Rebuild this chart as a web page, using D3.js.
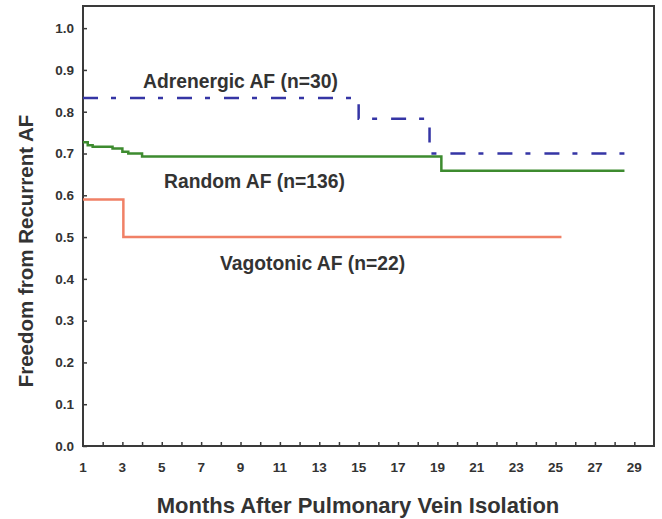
<!DOCTYPE html>
<html>
  <head>
    <script src="https://d3js.org/d3.v7.min.js"></script>
    <title>Freedom from Recurrent AF</title>
    <style>
      body { margin: 0; background: #fff; }
      text { font-family: "Liberation Sans", Arial, sans-serif; font-weight: bold; fill: #333; }
    </style>
  </head>
  <body>
  <svg width="662" height="519"></svg>
  <script>
      // step points: [month, freedom]
      var adrenergic = [[1, 0.833], [15, 0.833], [15, 0.783], [18.6, 0.783], [18.6, 0.70], [28.7, 0.70]];
      var random = [[1, 0.727], [1.24, 0.727], [1.24, 0.720], [1.49, 0.720], [1.49, 0.716], [2.5, 0.716],
        [2.5, 0.712], [3.0, 0.712], [3.0, 0.704], [3.3, 0.704], [3.3, 0.700], [4.0, 0.700], [4.0, 0.693],
        [19.2, 0.693], [19.2, 0.659], [28.5, 0.659]];
      var vagotonic = [[1, 0.59], [3.05, 0.59], [3.05, 0.50], [25.3, 0.50]];

      var xTicks = d3.range(2, 30);
      var xLabels = d3.range(1, 30, 2);
      var yTicks = d3.range(0, 11).map(d => d / 10);

      var svg = d3.select('svg');
      var margin = {left: 83, right: 8, top: 6, bottom: 73};
      var w = 662, h = 519;

      var xScale = d3.scaleLinear().domain([1, 30]).range([margin.left, w - margin.right]);
      var yScale = d3.scaleLinear().domain([0, 1.053]).range([h - margin.bottom, margin.top]);

      // frame
      svg.append('rect')
        .attr('x', margin.left)
        .attr('y', margin.top)
        .attr('width', w - margin.left - margin.right)
        .attr('height', h - margin.top - margin.bottom)
        .attr('fill', 'none')
        .attr('stroke', '#3a3a3a')
        .attr('stroke-width', 2);

      // x axis ticks (inward)
      var xAxis = d3.axisTop(xScale).tickValues(xTicks).tickSize(4).tickFormat('');
      svg.append('g')
        .attr('class', 'xAxis')
        .attr('transform', `translate(0, ${h - margin.bottom})`)
        .call(xAxis)
        .call(g => g.select('.domain').remove())
        .selectAll('line').attr('stroke', '#3a3a3a').attr('stroke-width', 1.5);

      svg.append('g')
        .selectAll('text')
        .data(xLabels)
        .enter().append('text')
        .attr('x', d => xScale(d))
        .attr('y', 472)
        .style('text-anchor', 'middle')
        .style('font-size', '13.5px')
        .text(d => d);

      // y axis ticks (inward)
      var yAxis = d3.axisRight(yScale).tickValues(yTicks).tickSize(4).tickFormat(d3.format('.1f'));
      svg.append('g')
        .attr('class', 'yAxis')
        .attr('transform', `translate(${margin.left}, 0)`)
        .call(yAxis)
        .call(g => g.select('.domain').remove())
        .call(g => g.selectAll('line').attr('stroke', '#3a3a3a').attr('stroke-width', 1.5))
        .selectAll('text')
        .attr('x', -9)
        .style('text-anchor', 'end')
        .style('font-size', '13.5px')
        .style('font-family', '"Liberation Sans", Arial, sans-serif')
        .style('font-weight', 'bold')
        .attr('fill', '#333');

      var line = d3.line().x(d => xScale(d[0])).y(d => yScale(d[1]));

      svg.append('path')
        .datum(vagotonic)
        .attr('d', line)
        .attr('fill', 'none')
        .attr('stroke', '#f08066')
        .attr('stroke-width', 2.5);

      svg.append('path')
        .datum(random)
        .attr('d', line)
        .attr('fill', 'none')
        .attr('stroke', '#3d8b2f')
        .attr('stroke-width', 2.5);

      svg.append('path')
        .datum(adrenergic)
        .attr('d', line)
        .attr('fill', 'none')
        .attr('stroke', '#3535a5')
        .attr('stroke-width', 2.5)
        .attr('stroke-dasharray', '15,13,5,14');

      // series labels
      svg.append('text').attr('x', 143).attr('y', 88).style('font-size', '19.3px').text('Adrenergic AF (n=30)');
      svg.append('text').attr('x', 164).attr('y', 188).style('font-size', '19.3px').text('Random AF (n=136)');
      svg.append('text').attr('x', 220).attr('y', 270).style('font-size', '19.3px').text('Vagotonic AF (n=22)');

      // axis titles
      svg.append('text')
        .attr('x', 358)
        .attr('y', 513)
        .style('text-anchor', 'middle')
        .style('font-size', '22px')
        .text('Months After Pulmonary Vein Isolation');

      svg.append('text')
        .attr('transform', 'translate(33, 251) rotate(-90)')
        .style('text-anchor', 'middle')
        .style('font-size', '20.5px')
        .text('Freedom from Recurrent AF');
  </script>
  </body>
</html>
